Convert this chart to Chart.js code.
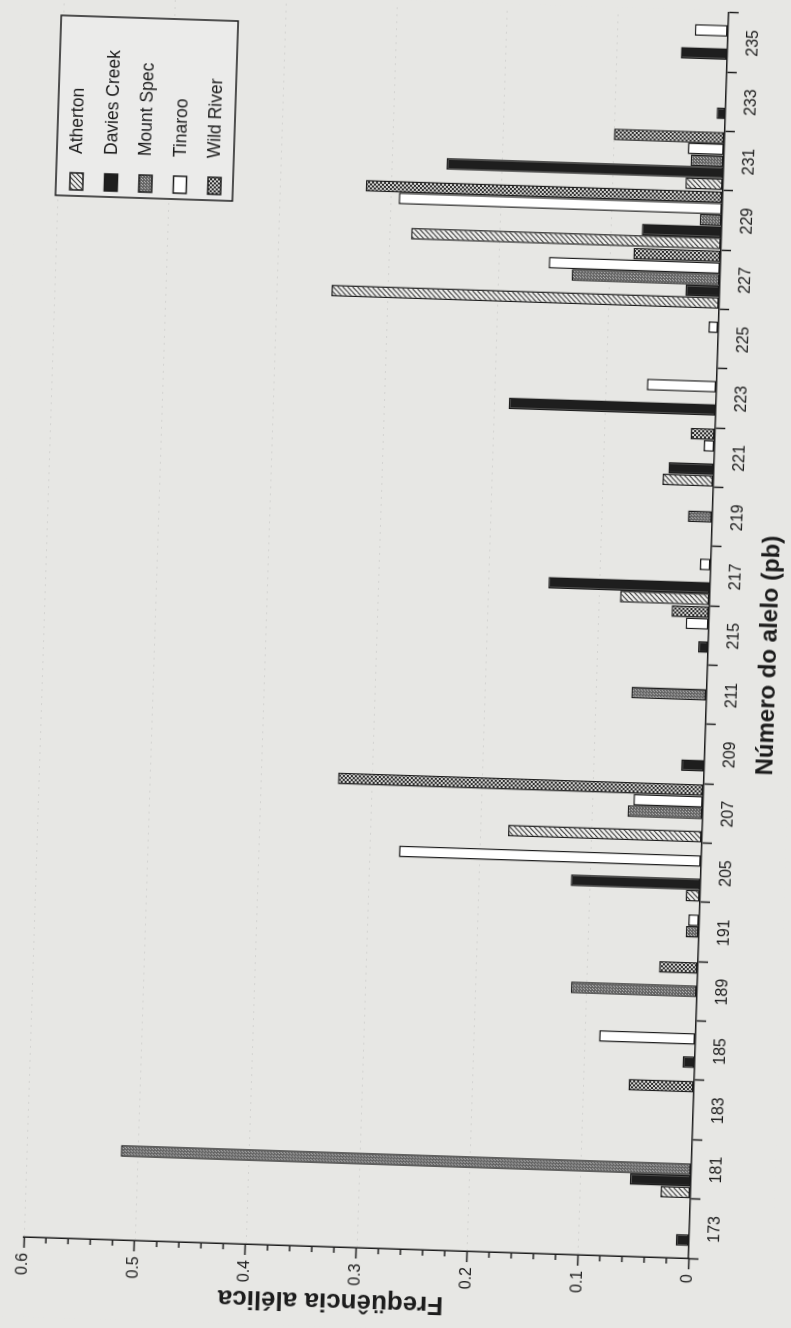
<!DOCTYPE html>
<html>
<head>
<meta charset="utf-8">
<script src="https://cdn.jsdelivr.net/npm/chart.js@4.4.1/dist/chart.umd.min.js"></script>
<style>
  html, body { margin: 0; padding: 0; width: 791px; height: 1328px; overflow: hidden; background: #e7e7e4; }
  /* the figure is laid out landscape and turned a quarter turn, slightly skewed like the printed page */
  #page {
    position: absolute; left: -268.5px; top: 268.5px;
    width: 1328px; height: 791px;
    transform-origin: 50% 50%;
    transform: rotate(-88.15deg);
    background: #e7e7e4;
  }
  canvas { display: block; }
</style>
</head>
<body>
<div id="page"><canvas id="chart" width="1328" height="791"></canvas></div>
<script>
// Allele sizes (bp) and allele frequencies per population
const alleles = ['173','181','183','185','189','191','205','207','209','211','215','217','219','221','223','225','227','229','231','233','235'];
const atherton    = [null, 0.027, null, null, null, null, 0.013, 0.175, null, null, null, 0.081, null, 0.046, null, null, 0.350, 0.280, 0.034, null, null];
const daviesCreek = [0.012, 0.055, null, 0.011, null, null, 0.117, null, 0.021, null, 0.009, 0.146, null, 0.041, 0.187, null, 0.031, 0.072, 0.250, 0.008, 0.042];
const mountSpec   = [null, 0.515, null, null, 0.114, 0.012, null, 0.068, null, 0.068, null, null, 0.022, null, null, null, 0.134, 0.020, 0.030, null, null];
const tinaroo     = [null, null, null, 0.087, null, 0.010, 0.273, 0.063, null, null, 0.021, 0.010, null, 0.010, 0.063, 0.009, 0.155, 0.292, 0.033, null, 0.030];
const wildRiver   = [null, null, 0.059, null, 0.035, null, null, 0.330, null, null, 0.034, null, null, 0.022, null, null, 0.079, 0.322, 0.100, null, null];
const freqTicks = [0, 0.1, 0.2, 0.3, 0.4, 0.5, 0.6];
const xTitle = 'Número do alelo (pb)';
const yTitle = 'Freqüência alélica';

const INK = '#1c1c1c';
const FONT = '"Liberation Sans", Arial, sans-serif';

function tile(size, paint) {
  const c = document.createElement('canvas');
  c.width = size; c.height = size;
  const g = c.getContext('2d');
  paint(g, size);
  return g.createPattern(c, 'repeat');
}
const hatchFill = tile(5, (g, s) => {
  g.fillStyle = '#f2f2f0'; g.fillRect(0, 0, s, s);
  g.strokeStyle = '#3a3a3a'; g.lineWidth = 1.2;
  g.beginPath();
  for (let k = -s; k <= 2 * s; k += s) { g.moveTo(k - s, s); g.lineTo(k + s, -s); }
  g.stroke();
});
const stippleFill = tile(3, (g, s) => {
  g.fillStyle = '#666666'; g.fillRect(0, 0, s, s);
  g.fillStyle = '#b4b4b4'; g.fillRect(0, 0, 1, 1); g.fillRect(1, 2, 1, 1);
});
const checkFill = tile(4, (g, s) => {
  g.fillStyle = '#d2d2d0'; g.fillRect(0, 0, s, s);
  g.fillStyle = '#2e2e2e'; g.fillRect(0, 0, 2, 2); g.fillRect(2, 2, 2, 2);
});

const series = [
  { label: 'Atherton',     data: atherton,    backgroundColor: hatchFill },
  { label: 'Davies Creek', data: daviesCreek, backgroundColor: '#1e1e1e' },
  { label: 'Mount Spec',   data: mountSpec,   backgroundColor: stippleFill },
  { label: 'Tinaroo',      data: tinaroo,     backgroundColor: '#ffffff' },
  { label: 'Wild River',   data: wildRiver,   backgroundColor: checkFill }
].map(d => Object.assign(d, { borderColor: INK, borderWidth: 1.5, borderSkipped: false,
  categoryPercentage: 0.98, barPercentage: 1.0 }));

// faint dotted guide lines at each labelled frequency
const guides = {
  id: 'guides',
  beforeDatasetsDraw(chart) {
    const { ctx, chartArea: a, scales: { y } } = chart;
    ctx.save();
    ctx.strokeStyle = 'rgba(140,140,140,0.2)';
    ctx.lineWidth = 1;
    ctx.setLineDash([2, 5]);
    freqTicks.slice(1).forEach(v => {
      const py = Math.round(y.getPixelForValue(v)) + 0.5;
      ctx.beginPath(); ctx.moveTo(a.left, py); ctx.lineTo(a.right, py); ctx.stroke();
    });
    ctx.restore();
  }
};

// short minor ticks every 0.02 on the frequency axis
const minorTicks = {
  id: 'minorTicks',
  afterDraw(chart) {
    const { ctx, chartArea: a, scales: { y } } = chart;
    ctx.save();
    ctx.strokeStyle = INK; ctx.lineWidth = 1.5;
    for (let i = 1; i < 30; i++) {
      if (i % 5 === 0) continue;
      const py = y.getPixelForValue(i * 0.02);
      ctx.beginPath(); ctx.moveTo(a.left - 6, py); ctx.lineTo(a.left, py); ctx.stroke();
    }
    ctx.restore();
  }
};

// axis titles
const axisTitles = {
  id: 'axisTitles',
  afterDraw(chart) {
    const { ctx, chartArea: a } = chart;
    ctx.save();
    ctx.fillStyle = INK;
    ctx.textAlign = 'center';
    ctx.textBaseline = 'middle';
    ctx.font = 'bold 24px ' + FONT;
    ctx.fillText(xTitle, (a.left + a.right) / 2 - 18, 768);
    ctx.translate(26, (a.top + a.bottom) / 2 - 24);
    ctx.rotate(-Math.PI / 2);
    ctx.font = 'bold 26px ' + FONT;
    ctx.fillText(yTitle, 0, 0);
    ctx.restore();
  }
};

// framed legend in the upper right corner of the plot
const legendBox = {
  id: 'legendBox',
  afterDraw(chart) {
    const { ctx, chartArea: a } = chart;
    const w = 180, h = 177;
    const x = a.right - 204, y = 40;
    ctx.save();
    ctx.fillStyle = '#ebebea';
    ctx.fillRect(x, y, w, h);
    ctx.strokeStyle = INK; ctx.lineWidth = 1.5;
    ctx.strokeRect(x, y, w, h);
    ctx.font = '17.5px ' + FONT;
    ctx.textBaseline = 'middle';
    chart.data.datasets.forEach((ds, i) => {
      const cy = y + 20.5 + i * 34.5;
      ctx.fillStyle = ds.backgroundColor;
      ctx.fillRect(x + 6, cy - 6.5, 17, 13);
      ctx.strokeStyle = INK; ctx.lineWidth = 1.5;
      ctx.strokeRect(x + 6, cy - 6.5, 17, 13);
      ctx.fillStyle = INK;
      ctx.fillText(ds.label, x + 42, cy);
    });
    ctx.restore();
  }
};

Chart.defaults.font.family = FONT;
Chart.defaults.color = INK;

new Chart(document.getElementById('chart'), {
  type: 'bar',
  data: { labels: alleles, datasets: series },
  options: {
    responsive: false,
    animation: false,
    devicePixelRatio: 1,
    layout: { padding: { top: 42, right: 2, left: 0, bottom: 4 } },
    plugins: { legend: { display: false }, tooltip: { enabled: false } },
    scales: {
      x: {
        type: 'category',
        offset: true,
        grid: { display: true, offset: true, drawOnChartArea: false, drawTicks: true, tickLength: 10, tickColor: INK, tickWidth: 1.5 },
        border: { display: true, color: INK, width: 1.5 },
        ticks: { color: INK, font: { size: 16 }, padding: 6, maxRotation: 0, autoSkip: false },
        afterFit(s) { s.height = 80; }
      },
      y: {
        min: 0, max: 0.6,
        afterBuildTicks(s) { s.ticks = freqTicks.map(v => ({ value: v })); },
        grid: { display: true, drawOnChartArea: false, drawTicks: true, tickLength: 11, tickColor: INK, tickWidth: 1.5 },
        border: { display: true, color: INK, width: 1.5 },
        ticks: { color: INK, font: { size: 16 }, padding: 5, callback: v => String(+v.toFixed(1)) },
        afterFit(s) { s.width = 80; }
      }
    }
  },
  plugins: [guides, minorTicks, axisTitles, legendBox]
});
</script>
</body>
</html>
